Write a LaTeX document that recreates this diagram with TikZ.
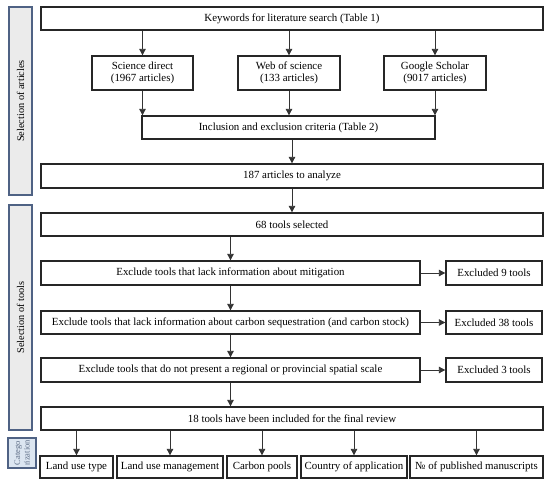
\documentclass[tikz,border=0pt]{standalone}
\usepackage{fontspec}
\setmainfont{Liberation Serif}
\usetikzlibrary{arrows.meta}
\definecolor{panelfill}{HTML}{EBEBEB}
\definecolor{panelline}{HTML}{4F6284}
\definecolor{catfill}{HTML}{DCE6F1}
\definecolor{cattext}{HTML}{5F6F88}
\begin{document}
\begin{tikzpicture}[x=1pt,y=-1pt,
  box/.style={draw=black!85,line width=1.3pt,inner sep=0pt,align=center,font=\fontsize{10.9}{12.5}\selectfont},
  panel/.style={draw=panelline,fill=panelfill,line width=1.2pt},
  arr/.style={-{Triangle[length=6.5pt,width=6.5pt]},line width=0.8pt,draw=black!80}]
\useasboundingbox (0,0) rectangle (550,485);
% side panels
\draw[panel] (9,7) rectangle (32,195);
\node[rotate=90,font=\fontsize{10.3}{12}\selectfont] (p1) at (20.5,101) {Selection of articles};
\draw[panel] (9,205) rectangle (32,430);
\node[rotate=90,font=\fontsize{10.3}{12}\selectfont] (p2) at (20.5,317.5) {Selection of tools};
\draw[draw=panelline,fill=catfill,line width=1.2pt] (8,438) rectangle (36,468);
\node[rotate=90,align=center,text=cattext,font=\fontsize{8.5}{9.5}\selectfont] (p3) at (22,453) {Catego\\rization};
% boxes
\node[box,minimum width=502pt,minimum height=23pt] (kw) at (292,18.5) {Keywords for literature search (Table 1)};
\node[box,minimum width=101pt,minimum height=34pt] (sd) at (142.5,73) {Science direct\\(1967 articles)};
\node[box,minimum width=102pt,minimum height=34pt] (ws) at (289,73) {Web of science\\(133 articles)};
\node[box,minimum width=102pt,minimum height=34pt] (gs) at (435,73) {Google Scholar\\(9017 articles)};
\node[box,minimum width=293pt,minimum height=23pt] (inc) at (288.5,127.5) {Inclusion and exclusion criteria (Table 2)};
\node[box,minimum width=502pt,minimum height=24pt] (a187) at (292,176) {187 articles to analyze};
\node[box,minimum width=502pt,minimum height=23pt] (t68) at (292,224.5) {68 tools selected};
\node[box,minimum width=379pt,minimum height=24pt] (ex1) at (230.5,273) {Exclude tools that lack information about mitigation};
\node[box,minimum width=96pt,minimum height=24pt] (ex1r) at (494,273) {Excluded 9 tools};
\node[box,minimum width=379pt,minimum height=23pt] (ex2) at (230.5,322.5) {Exclude tools that lack information about carbon sequestration (and carbon stock)};
\node[box,minimum width=96pt,minimum height=23pt] (ex2r) at (494,322.5) {Excluded 38 tools};
\node[box,minimum width=379pt,minimum height=24pt] (ex3) at (230.5,370) {Exclude tools that do not present a regional or provincial spatial scale};
\node[box,minimum width=96pt,minimum height=24pt] (ex3r) at (494,370) {Excluded 3 tools};
\node[box,minimum width=502pt,minimum height=23pt] (t18) at (292,418.5) {18 tools have been included for the final review};
\node[box,minimum width=73pt,minimum height=22pt] (b1) at (76.5,467) {Land use type};
\node[box,minimum width=106pt,minimum height=22pt] (b2) at (170,467) {Land use management};
\node[box,minimum width=70pt,minimum height=22pt] (b3) at (262,467) {Carbon pools};
\node[box,minimum width=106pt,minimum height=22pt] (b4) at (354,467) {Country of application};
\node[box,minimum width=133pt,minimum height=22pt] (b5) at (476.5,467) {№ of published manuscripts};
% arrows
\foreach \n in {sd,ws,gs} \draw[arr] (\n.north |- kw.south) -- (\n.north);
\foreach \n in {sd,ws,gs} \draw[arr] (\n.south) -- (\n.south |- inc.north);
\draw[arr] (a187.north |- inc.south) -- (a187.north);
\draw[arr] (a187.south) -- (t68.north);
\draw[arr] (ex1.north |- t68.south) -- (ex1.north);
\draw[arr] (ex1.south) -- (ex2.north);
\draw[arr] (ex2.south) -- (ex3.north);
\draw[arr] (ex3.south) -- (ex3.south |- t18.north);
\draw[arr] (ex1.east) -- (ex1r.west);
\draw[arr] (ex2.east) -- (ex2r.west);
\draw[arr] (ex3.east) -- (ex3r.west);
\foreach \n in {b1,b2,b3,b4,b5} \draw[arr] (\n.north |- t18.south) -- (\n.north);
\end{tikzpicture}
\end{document}
